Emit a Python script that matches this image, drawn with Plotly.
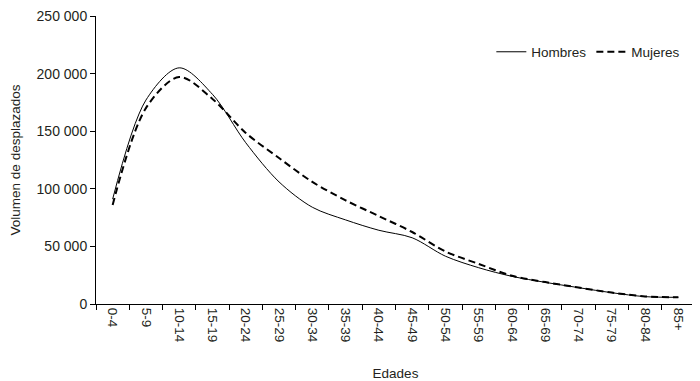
import plotly.graph_objects as go

edades = ["0-4", "5-9", "10-14", "15-19", "20-24", "25-29", "30-34", "35-39", "40-44",
          "45-49", "50-54", "55-59", "60-64", "65-69", "70-74", "75-79", "80-84", "85+"]
hombres = [91000, 177000, 205000, 182000, 140000, 106000, 84000, 73000, 64000,
           57500, 41500, 31500, 24000, 18800, 14200, 9800, 6400, 5800]
mujeres = [86000, 170000, 197000, 178000, 148500, 126700, 106000, 90000, 76300,
           62500, 45600, 34800, 24500, 19000, 14300, 9900, 6600, 5900]
y_ticks = [0, 50000, 100000, 150000, 200000, 250000]
y_tick_labels = ["0", "50 000", "100 000", "150 000", "200 000", "250 000"]

FONT = "Liberation Sans, Arial, sans-serif"
TXT = "#231f20"
FS = 13.5

fig = go.Figure()
fig.add_trace(go.Scatter(x=edades, y=hombres, name="Hombres", mode="lines",
                         line=dict(color="#000000", width=1, shape="spline", smoothing=0.9)))
fig.add_trace(go.Scatter(x=edades, y=mujeres, name="Mujeres", mode="lines",
                         line=dict(color="#000000", width=2, shape="spline", smoothing=0.9,
                                   dash="7px,4px")))

# page body has an 8px default margin, so the figure is 8px smaller and margins shifted
fig.update_layout(
    width=692, height=373,
    margin=dict(l=88, r=5, t=8, b=77),
    paper_bgcolor="white", plot_bgcolor="white",
    font=dict(family=FONT, size=FS, color=TXT),
    showlegend=True,
    legend=dict(orientation="h", x=0.66, xanchor="left", y=0.875, yanchor="middle",
                bgcolor="rgba(0,0,0,0)", font=dict(size=FS, color=TXT),
                itemwidth=30, tracegroupgap=0),
    xaxis=dict(type="category", range=[-0.5, 17.5], showgrid=False, zeroline=False,
               automargin=False, ticklabeloverflow="allow",
               showline=True, linecolor="#000000", linewidth=1,
               ticks="outside", tickson="boundaries", ticklen=5, tickcolor="#000000",
               tickangle=90, tickfont=dict(size=FS, color=TXT),
               title=dict(text="Edades", font=dict(size=FS, color=TXT), standoff=26)),
    yaxis=dict(range=[0, 250000], showgrid=False, zeroline=False,
               automargin=False, ticklabeloverflow="allow",
               showline=True, linecolor="#000000", linewidth=1,
               ticks="outside", ticklen=5, tickcolor="#000000",
               tickvals=y_ticks, ticktext=y_tick_labels, tickfont=dict(size=14, color=TXT),
               title=dict(text="Volumen de desplazados", font=dict(size=FS, color=TXT), standoff=14)),
)

fig.write_html("out.html")
